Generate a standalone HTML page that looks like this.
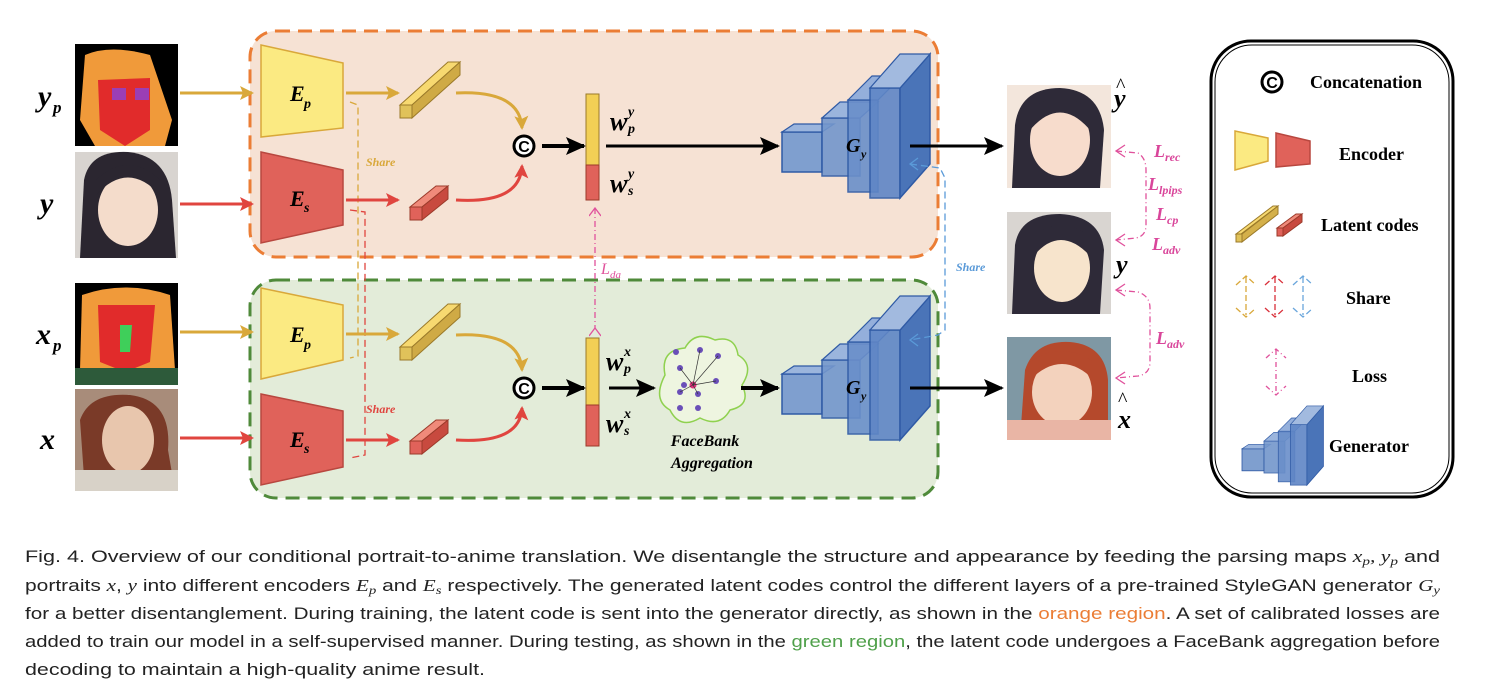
<!DOCTYPE html>
<html><head><meta charset="utf-8"><style>
html,body{margin:0;padding:0;background:#fff;}
svg{display:block;}
.lab{font-family:"Liberation Serif",serif;font-style:italic;font-weight:bold;}
.cap{font-family:"Liberation Sans",sans-serif;font-size:17px;fill:#222;}
.leg{font-family:"Liberation Serif",serif;font-weight:bold;font-size:18px;}
</style></head><body>
<svg width="1494" height="698" viewBox="0 0 1494 698" xmlns="http://www.w3.org/2000/svg">
<defs>
<marker id="ar" markerWidth="14" markerHeight="14" refX="12" refY="7" orient="auto" markerUnits="userSpaceOnUse"><path d="M0,0 L14,7 L0,14 L3,7 z" fill="#e0453f"/></marker>
<marker id="ayy" markerWidth="14" markerHeight="14" refX="12" refY="7" orient="auto" markerUnits="userSpaceOnUse"><path d="M0,0 L14,7 L0,14 L3,7 z" fill="#d9a83a"/></marker>
<marker id="ak" markerWidth="20" markerHeight="18" refX="18" refY="9" orient="auto" markerUnits="userSpaceOnUse"><path d="M0,0 L20,9 L0,18 L4,9 z" fill="#000"/></marker>
<marker id="ap" markerWidth="10" markerHeight="12" refX="1" refY="6" orient="auto" markerUnits="userSpaceOnUse"><path d="M9,0 L1,6 L9,12" fill="none" stroke="#e0529c" stroke-width="1.3"/></marker>
<g id="gen">
<rect x="0" y="16" width="40" height="40" fill="#7f9fcf" stroke="#2f5aa5" stroke-width="1.5"/>
<polygon points="0,16 12,8 52,8 40,16" fill="#9bb5dd" stroke="#2f5aa5" stroke-width="1.2"/>
<rect x="40" y="2" width="38" height="58" fill="#7396cc" stroke="#2f5aa5" stroke-width="1.5" opacity=".9"/>
<polygon points="40,2 58,-14 96,-14 78,2" fill="#9bb5dd" stroke="#2f5aa5" stroke-width="1.2"/>
<rect x="66" y="-16" width="30" height="92" fill="#6a8fca" stroke="#2f5aa5" stroke-width="1.5" opacity=".9"/>
<polygon points="66,-16 90,-40 120,-40 96,-16" fill="#94afdb" stroke="#2f5aa5" stroke-width="1.2"/>
<rect x="88" y="-28" width="30" height="110" fill="#5f86c6" stroke="#2f5aa5" stroke-width="1.5" opacity=".9"/>
<polygon points="118,-28 148,-62 148,48 118,82" fill="#4a74b8" stroke="#2f5aa5" stroke-width="1.5"/>
<polygon points="88,-28 118,-62 148,-62 118,-28" fill="#a2badf" stroke="#2f5aa5" stroke-width="1.2"/>
</g>
</defs>

<rect x="250" y="31" width="688" height="226" rx="26" fill="#f6e2d4" stroke="#eb7d35" stroke-width="3" stroke-dasharray="14,8"/>
<rect x="250" y="280" width="688" height="218" rx="26" fill="#e3ecd9" stroke="#4f8a3a" stroke-width="3" stroke-dasharray="14,8"/>

<rect x="75" y="44" width="103" height="102" fill="#000"/>
<path d="M85,55 Q110,44 150,55 L172,120 L165,146 L95,146 L80,120 Z" fill="#f09a3a"/>
<path d="M98,80 L150,78 L150,130 L125,146 L100,130 Z" fill="#e12b2b"/>
<rect x="112" y="88" width="14" height="12" fill="#9b3eb5"/><rect x="135" y="88" width="14" height="12" fill="#9b3eb5"/>
<rect x="75" y="152" width="103" height="106" fill="#d8d4d0"/>
<path d="M80,258 L84,180 Q90,150 128,152 Q168,156 172,200 L176,258 Z" fill="#2b2630"/>
<ellipse cx="128" cy="210" rx="30" ry="36" fill="#f4dccb"/>
<path d="M96,195 Q128,160 160,195 L160,180 Q128,150 96,180 Z" fill="#2b2630"/>
<rect x="75" y="283" width="103" height="102" fill="#000"/>
<path d="M82,295 Q125,280 170,295 L175,370 L80,370 Z" fill="#f09a3a"/>
<path d="M98,305 L155,305 L150,362 L125,372 L100,362 Z" fill="#e12b2b"/>
<path d="M120,325 L132,325 L130,352 L120,352 Z" fill="#3fcf5a"/>
<rect x="75" y="368" width="103" height="17" fill="#2d5a3a"/>
<rect x="75" y="389" width="103" height="102" fill="#a88c7a"/>
<path d="M85,491 L80,420 Q90,392 130,395 Q172,400 168,450 L175,491 Z" fill="#7a3a28"/>
<ellipse cx="128" cy="440" rx="26" ry="34" fill="#e8c6ad"/>
<rect x="75" y="470" width="103" height="21" fill="#d8d2c8"/>

<text class="lab" x="38" y="106" font-size="30">y</text><text class="lab" x="53" y="113" font-size="17">p</text>
<text class="lab" x="40" y="213" font-size="30">y</text>
<text class="lab" x="36" y="344" font-size="30">x</text><text class="lab" x="53" y="351" font-size="17">p</text>
<text class="lab" x="40" y="449" font-size="30">x</text>

<line x1="180" y1="93" x2="252" y2="93" stroke="#d9a83a" stroke-width="3" marker-end="url(#ayy)"/>
<line x1="180" y1="204" x2="252" y2="204" stroke="#e0453f" stroke-width="3" marker-end="url(#ar)"/>
<line x1="180" y1="332" x2="252" y2="332" stroke="#d9a83a" stroke-width="3" marker-end="url(#ayy)"/>
<line x1="180" y1="438" x2="252" y2="438" stroke="#e0453f" stroke-width="3" marker-end="url(#ar)"/>

<polygon points="261,45 343,63 343,128 261,137" fill="#fbea82" stroke="#d9a83a" stroke-width="1.5"/>
<polygon points="261,152 343,170 343,225 261,243" fill="#e0625a" stroke="#b8473f" stroke-width="1.5"/>
<polygon points="261,288 343,305 343,360 261,379" fill="#fbea82" stroke="#d9a83a" stroke-width="1.5"/>
<polygon points="261,394 343,411 343,467 261,485" fill="#e0625a" stroke="#b8473f" stroke-width="1.5"/>
<text class="lab" x="290" y="101" font-size="22">E</text><text class="lab" x="304" y="108" font-size="14">p</text>
<text class="lab" x="290" y="206" font-size="22">E</text><text class="lab" x="304" y="212" font-size="14">s</text>
<text class="lab" x="290" y="342" font-size="22">E</text><text class="lab" x="304" y="349" font-size="14">p</text>
<text class="lab" x="290" y="447" font-size="22">E</text><text class="lab" x="304" y="453" font-size="14">s</text>

<path d="M350,102 L358,105 L358,356 L350,358" fill="none" stroke="#d9a83a" stroke-width="1.3" stroke-dasharray="7,4"/>
<path d="M350,210 L365,212 L365,455 L350,458" fill="none" stroke="#e0453f" stroke-width="1.3" stroke-dasharray="7,4"/>
<text x="366" y="166" font-family="Liberation Serif,serif" font-style="italic" font-size="12" fill="#d9a83a" font-weight="bold">Share</text>
<text x="366" y="413" font-family="Liberation Serif,serif" font-style="italic" font-size="12" fill="#e0453f" font-weight="bold">Share</text>

<line x1="346" y1="93" x2="398" y2="93" stroke="#d9a83a" stroke-width="3" marker-end="url(#ayy)"/>
<line x1="346" y1="200" x2="398" y2="200" stroke="#e0453f" stroke-width="3" marker-end="url(#ar)"/>
<line x1="346" y1="334" x2="398" y2="334" stroke="#d9a83a" stroke-width="3" marker-end="url(#ayy)"/>
<line x1="346" y1="440" x2="398" y2="440" stroke="#e0453f" stroke-width="3" marker-end="url(#ar)"/>

<g id="yl">
<polygon points="400,105 448,62 460,62 412,105" fill="#f7d970" stroke="#9b7a2a"/>
<polygon points="400,105 412,105 412,118 400,118" fill="#e0c25a" stroke="#9b7a2a"/>
<polygon points="412,105 460,62 460,75 412,118" fill="#cfaa45" stroke="#9b7a2a"/>
</g>
<use href="#yl" y="242"/>
<g id="rl">
<polygon points="410,207 436,186 448,186 422,207" fill="#f08a7a" stroke="#9b3a2a"/>
<rect x="410" y="207" width="12" height="13" fill="#e0625a" stroke="#9b3a2a"/>
<polygon points="422,207 448,186 448,199 422,220" fill="#c84a3f" stroke="#9b3a2a"/>
</g>
<use href="#rl" y="234"/>

<path d="M456,93 Q520,90 522,128" fill="none" stroke="#d9a83a" stroke-width="3" marker-end="url(#ayy)"/>
<path d="M456,200 Q520,204 522,166" fill="none" stroke="#e0453f" stroke-width="3" marker-end="url(#ar)"/>
<path d="M456,335 Q520,332 522,370" fill="none" stroke="#d9a83a" stroke-width="3" marker-end="url(#ayy)"/>
<path d="M456,440 Q520,444 522,408" fill="none" stroke="#e0453f" stroke-width="3" marker-end="url(#ar)"/>

<circle cx="524" cy="146" r="10" fill="#fff" stroke="#000" stroke-width="3"/>
<text x="524" y="152" text-anchor="middle" font-family="Liberation Sans,sans-serif" font-weight="bold" font-size="16">C</text>
<circle cx="524" cy="388" r="10" fill="#fff" stroke="#000" stroke-width="3"/>
<text x="524" y="394" text-anchor="middle" font-family="Liberation Sans,sans-serif" font-weight="bold" font-size="16">C</text>
<line x1="542" y1="146" x2="584" y2="146" stroke="#000" stroke-width="4" marker-end="url(#ak)"/>
<line x1="542" y1="388" x2="584" y2="388" stroke="#000" stroke-width="4" marker-end="url(#ak)"/>

<rect x="586" y="94" width="13" height="71" fill="#f2cf55" stroke="#9b7a2a"/>
<rect x="586" y="165" width="13" height="35" fill="#e0625a" stroke="#9b3a2a"/>
<rect x="586" y="338" width="13" height="67" fill="#f2cf55" stroke="#9b7a2a"/>
<rect x="586" y="405" width="13" height="41" fill="#e0625a" stroke="#9b3a2a"/>
<text class="lab" x="610" y="130" font-size="26">w</text><text class="lab" x="628" y="116" font-size="14">y</text><text class="lab" x="628" y="133" font-size="14">p</text>
<text class="lab" x="610" y="192" font-size="26">w</text><text class="lab" x="628" y="178" font-size="14">y</text><text class="lab" x="628" y="195" font-size="14">s</text>
<text class="lab" x="606" y="370" font-size="26">w</text><text class="lab" x="624" y="356" font-size="14">x</text><text class="lab" x="624" y="373" font-size="14">p</text>
<text class="lab" x="606" y="432" font-size="26">w</text><text class="lab" x="624" y="418" font-size="14">x</text><text class="lab" x="624" y="435" font-size="14">s</text>

<line x1="595" y1="208" x2="595" y2="328" stroke="#e0529c" stroke-width="1.3" stroke-dasharray="6,3,1,3" marker-start="url(#ap)" marker-end="url(#ap)"/>
<text x="601" y="274" font-family="Liberation Serif,serif" font-style="italic" font-size="16" fill="#e0529c">L</text><text x="610" y="278" font-family="Liberation Serif,serif" font-style="italic" font-size="11" fill="#e0529c">da</text>

<line x1="606" y1="146" x2="778" y2="146" stroke="#000" stroke-width="3" marker-end="url(#ak)"/>
<line x1="609" y1="388" x2="654" y2="388" stroke="#000" stroke-width="3" marker-end="url(#ak)"/>

<path d="M665,375 Q660,350 685,348 Q695,330 715,340 Q735,335 738,355 Q755,365 742,385 Q752,405 730,410 Q720,428 700,418 Q680,430 670,410 Q652,400 665,375 Z" fill="#eef5e0" stroke="#8fd14f" stroke-width="1.5"/>
<g fill="#6a4fb8">
<circle cx="676" cy="352" r="3"/><circle cx="700" cy="350" r="3"/><circle cx="718" cy="356" r="3"/><circle cx="680" cy="368" r="3"/><circle cx="716" cy="381" r="3"/><circle cx="680" cy="392" r="3"/><circle cx="698" cy="394" r="3"/><circle cx="680" cy="408" r="3"/><circle cx="698" cy="408" r="3"/><circle cx="684" cy="385" r="3"/>
</g>
<circle cx="693" cy="385" r="3.5" fill="#e0307a"/>
<g stroke="#333" stroke-width=".7"><line x1="693" y1="385" x2="680" y2="368"/><line x1="693" y1="385" x2="700" y2="350"/><line x1="693" y1="385" x2="718" y2="356"/><line x1="693" y1="385" x2="716" y2="381"/><line x1="693" y1="385" x2="680" y2="392"/><line x1="693" y1="385" x2="698" y2="394"/></g>
<text x="705" y="446" text-anchor="middle" class="lab" font-weight="normal" font-size="16">FaceBank</text>
<text x="712" y="468" text-anchor="middle" class="lab" font-weight="normal" font-size="16">Aggregation</text>
<line x1="741" y1="388" x2="778" y2="388" stroke="#000" stroke-width="4" marker-end="url(#ak)"/>

<use href="#gen" x="782" y="116"/>
<use href="#gen" x="782" y="358"/>
<text class="lab" x="846" y="152" font-size="20" font-weight="normal">G</text><text class="lab" x="861" y="158" font-size="12">y</text>
<text class="lab" x="846" y="394" font-size="20" font-weight="normal">G</text><text class="lab" x="861" y="400" font-size="12">y</text>

<path d="M910,164 L940,168 L945,178 L945,330 L938,335 L910,340" fill="none" stroke="#5a9ad8" stroke-width="1.3" stroke-dasharray="7,4"/>
<path d="M918,158 L910,164 L918,170 M918,334 L910,340 L918,346" fill="none" stroke="#5a9ad8" stroke-width="1.3"/>
<text x="956" y="271" font-family="Liberation Serif,serif" font-style="italic" font-weight="bold" font-size="12" fill="#5a9ad8">Share</text>

<line x1="910" y1="146" x2="1002" y2="146" stroke="#000" stroke-width="3" marker-end="url(#ak)"/>
<line x1="910" y1="388" x2="1002" y2="388" stroke="#000" stroke-width="3" marker-end="url(#ak)"/>

<rect x="1007" y="85" width="104" height="103" fill="#f3e6dc"/>
<path d="M1012,188 L1015,125 Q1020,88 1060,88 Q1100,90 1104,130 L1100,188 Z" fill="#2e2a38"/>
<ellipse cx="1060" cy="140" rx="30" ry="36" fill="#f7dccc"/>
<path d="M1030,130 Q1060,95 1090,130 L1090,110 Q1060,85 1030,110 Z" fill="#2e2a38"/>
<rect x="1007" y="212" width="104" height="102" fill="#d9d5d1"/>
<path d="M1012,314 L1015,245 Q1020,214 1060,214 Q1100,216 1104,250 L1100,314 Z" fill="#2e2a38"/>
<ellipse cx="1062" cy="268" rx="28" ry="34" fill="#f7e4cc"/>
<path d="M1032,258 Q1060,222 1092,258 L1092,238 Q1060,212 1032,238 Z" fill="#2e2a38"/>
<rect x="1007" y="337" width="104" height="103" fill="#7f98a4"/>
<path d="M1020,440 L1025,370 Q1035,340 1070,342 Q1105,345 1108,380 L1108,440 Z" fill="#b5492c"/>
<ellipse cx="1062" cy="392" rx="30" ry="34" fill="#f3d2bd"/>
<path d="M1030,380 Q1062,348 1094,380 L1094,362 Q1062,340 1030,362 Z" fill="#b5492c"/>
<rect x="1007" y="420" width="104" height="20" fill="#e9b5a5"/>

<text class="lab" x="1114" y="107" font-size="26" font-weight="normal">y</text><text x="1116" y="92" font-size="20" font-family="Liberation Serif,serif">^</text>
<text class="lab" x="1116" y="273" font-size="26" font-weight="normal">y</text>
<text class="lab" x="1118" y="428" font-size="26" font-weight="normal">x</text><text x="1118" y="406" font-size="20" font-family="Liberation Serif,serif">^</text>

<g fill="none" stroke="#e0529c" stroke-width="1.3" stroke-dasharray="6,3,1,3">
<path d="M1116,151 L1138,153 Q1146,158 1146,170 L1146,225 Q1146,236 1136,238 L1116,240"/>
<path d="M1116,290 L1138,292 Q1150,296 1150,308 L1150,362 Q1150,374 1138,376 L1116,378"/>
</g>
<path d="M1125,145 L1116,151 L1125,157 M1125,234 L1116,240 L1125,246 M1125,284 L1116,290 L1125,296 M1125,372 L1116,378 L1125,384" fill="none" stroke="#e0529c" stroke-width="1.3"/>
<g font-family="Liberation Serif,serif" font-style="italic" fill="#d9459a" font-weight="bold">
<text x="1154" y="157" font-size="18">L</text><text x="1165" y="161" font-size="12">rec</text>
<text x="1148" y="190" font-size="18">L</text><text x="1159" y="194" font-size="12">lpips</text>
<text x="1156" y="220" font-size="18">L</text><text x="1167" y="224" font-size="12">cp</text>
<text x="1152" y="250" font-size="18">L</text><text x="1163" y="254" font-size="12">adv</text>
<text x="1156" y="344" font-size="18">L</text><text x="1167" y="348" font-size="12">adv</text>
</g>

<rect x="1211" y="41" width="242" height="456" rx="40" fill="#fff" stroke="#000" stroke-width="3"/>
<rect x="1215" y="45" width="234" height="448" rx="37" fill="none" stroke="#000" stroke-width="1"/>
<circle cx="1272" cy="82" r="10" fill="#fff" stroke="#000" stroke-width="3"/>
<text x="1272" y="88" text-anchor="middle" font-family="Liberation Sans,sans-serif" font-weight="bold" font-size="16">C</text>
<text class="leg" x="1310" y="88">Concatenation</text>
<polygon points="1235,131 1268,138 1268,161 1235,170" fill="#fbea82" stroke="#d9a83a" stroke-width="1.5"/>
<polygon points="1276,133 1310,141 1310,164 1276,167" fill="#e0625a" stroke="#b8473f" stroke-width="1.5"/>
<text class="leg" x="1339" y="160">Encoder</text>
<polygon points="1236,234 1273,206 1278,206 1241,234" fill="#f7d970" stroke="#9b7a2a"/>
<rect x="1236" y="234" width="6" height="8" fill="#e0c25a" stroke="#9b7a2a"/>
<polygon points="1242,234 1278,206 1278,214 1242,242" fill="#d4b04a" stroke="#9b7a2a"/>
<polygon points="1277,228 1296,214 1302,214 1283,228" fill="#f08a7a" stroke="#9b3a2a"/>
<rect x="1277" y="228" width="6" height="8" fill="#e0625a" stroke="#9b3a2a"/>
<polygon points="1283,228 1302,214 1302,222 1283,236" fill="#c84a3f" stroke="#9b3a2a"/>
<text class="leg" x="1321" y="231">Latent codes</text>
<g fill="none" stroke-width="1.3">
<g stroke="#d9a83a"><path d="M1236,285 L1246,276 L1256,285 M1246,277 L1246,315 M1236,308 L1246,317 L1256,308" stroke-dasharray="6,3"/></g>
<g stroke="#d9303a"><path d="M1265,285 L1275,276 L1285,285 M1275,277 L1275,315 M1265,308 L1275,317 L1285,308" stroke-dasharray="6,3"/></g>
<g stroke="#6aa6dc"><path d="M1293,285 L1303,276 L1313,285 M1303,277 L1303,315 M1293,308 L1303,317 L1313,308" stroke-dasharray="6,3"/></g>
<path d="M1266,358 L1276,349 L1286,358 M1276,350 L1276,394 M1266,386 L1276,395 L1286,386" stroke="#e0529c" stroke-dasharray="5,3,1,3"/>
</g>
<text class="leg" x="1346" y="304">Share</text>
<text class="leg" x="1352" y="382">Loss</text>
<g transform="translate(1242,440) scale(0.55)"><use href="#gen" x="0" y="0"/></g>
<text class="leg" x="1329" y="452">Generator</text>

<text class="cap" x="25" y="562" textLength="1415" lengthAdjust="spacingAndGlyphs">Fig. 4.  Overview of our conditional portrait-to-anime translation. We disentangle the structure and appearance by feeding the parsing maps <tspan font-style="italic" font-family="Liberation Serif">x<tspan font-size="12" dy="3">p</tspan><tspan dy="-3">, y</tspan><tspan font-size="12" dy="3">p</tspan></tspan><tspan dy="-3"> and</tspan></text>
<text class="cap" x="25" y="591" textLength="1415" lengthAdjust="spacingAndGlyphs">portraits <tspan font-style="italic" font-family="Liberation Serif">x</tspan>, <tspan font-style="italic" font-family="Liberation Serif">y</tspan> into different encoders <tspan font-style="italic" font-family="Liberation Serif">E<tspan font-size="12" dy="3">p</tspan></tspan><tspan dy="-3"> and </tspan><tspan font-style="italic" font-family="Liberation Serif">E<tspan font-size="12" dy="3">s</tspan></tspan><tspan dy="-3"> respectively. The generated latent codes control the different layers of a pre-trained StyleGAN generator </tspan><tspan font-style="italic" font-family="Liberation Serif">G<tspan font-size="12" dy="3">y</tspan></tspan></text>
<text class="cap" x="25" y="619" textLength="1415" lengthAdjust="spacingAndGlyphs">for a better disentanglement. During training, the latent code is sent into the generator directly, as shown in the <tspan fill="#eb7d35">orange region</tspan>. A set of calibrated losses are</text>
<text class="cap" x="25" y="647" textLength="1415" lengthAdjust="spacingAndGlyphs">added to train our model in a self-supervised manner. During testing, as shown in the <tspan fill="#4fa04a">green region</tspan>, the latent code undergoes a FaceBank aggregation before</text>
<text class="cap" x="25" y="675" textLength="460" lengthAdjust="spacingAndGlyphs">decoding to maintain a high-quality anime result.</text>
</svg>
</body></html>
